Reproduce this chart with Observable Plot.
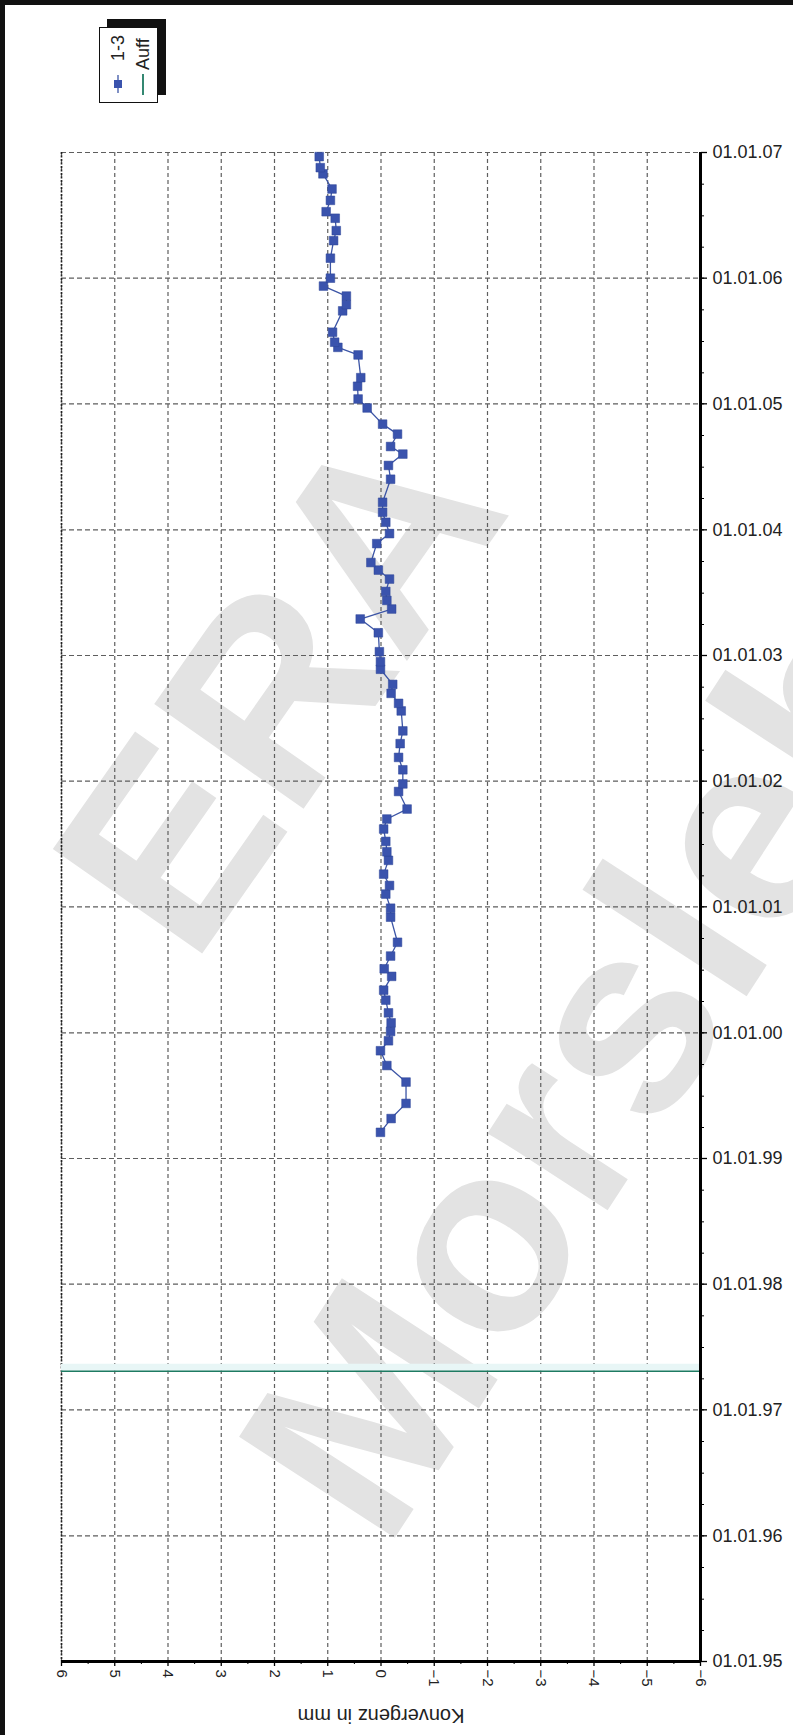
<!DOCTYPE html>
<html>
<head>
<meta charset="utf-8">
<script src="https://cdn.jsdelivr.net/npm/d3@7"></script>
<script src="https://cdn.jsdelivr.net/npm/@observablehq/plot@0.6"></script>
<style>
  body { margin: 0; background: #fff; }
  #wrap { position: relative; width: 793px; height: 1735px; overflow: hidden; font-family: "Liberation Sans", Arial, sans-serif; }
  #wm { position: absolute; left: 0; top: 0; z-index: 0; }
  #chart { position: absolute; left: 0; top: 0; z-index: 1; }
  #legend { position: absolute; left: 99px; top: 27px; width: 57px; height: 74px; border: 1.5px solid #111; background: #fff; box-shadow: 8px -8px 0 #111; z-index: 2; }
  .bl { position: absolute; left: 0; top: 0; width: 5px; height: 1735px; background: #111; z-index: 3; }
  .bt { position: absolute; left: 0; top: 0; width: 793px; height: 5px; background: #111; z-index: 3; }
</style>
</head>
<body>
<div id="wrap">
  <svg id="wm" width="793" height="1735">
    <g font-family="Liberation Sans, Arial, sans-serif" font-weight="bold" fill="#e3e3e3">
      <text font-size="265" transform="translate(192,968) rotate(-55)">ERA</text>
      <text font-size="270" transform="translate(385,1553) rotate(-57)">Morsleben</text>
    </g>
  </svg>
  <div id="chart"></div>
  <div id="legend">
    <svg width="57" height="74" font-family="Liberation Sans, Arial, sans-serif" font-size="18" fill="#222">
      <text transform="translate(24,33) rotate(-90)">1-3</text>
      <line x1="18" y1="47" x2="18" y2="65" stroke="#3c55a6" stroke-width="1.3"></line>
      <rect x="14" y="52" width="8" height="8" fill="#3a53ad"></rect>
      <text transform="translate(49,42) rotate(-90)">Auff</text>
      <line x1="43" y1="46" x2="43" y2="67" stroke="#1e7b62" stroke-width="1.8"></line>
    </svg>
  </div>
  <div class="bl"></div>
  <div class="bt"></div>
</div>
<script>
// Series "1-3": measurement dates and convergence values (mm)
const dates = [
  "1999-03-18","1999-04-27","1999-06-10","1999-08-11","1999-09-28","1999-11-10","1999-12-09",
  "2000-01-05","2000-01-30","2000-02-28","2000-04-05","2000-05-04","2000-06-13","2000-07-05",
  "2000-08-11","2000-09-20","2000-12-02","2000-12-28",
  "2001-02-07","2001-03-04","2001-04-06","2001-05-16","2001-06-10","2001-07-10","2001-08-15",
  "2001-09-13","2001-10-12","2001-12-02","2001-12-24",
  "2002-02-03","2002-03-11","2002-04-20","2002-05-27","2002-07-24","2002-08-15","2002-09-13",
  "2002-10-09","2002-11-22","2002-12-14",
  "2003-01-12","2003-03-08","2003-04-17","2003-05-16","2003-06-10","2003-07-06","2003-08-11",
  "2003-09-06","2003-09-28","2003-11-22","2003-12-21",
  "2004-01-23","2004-02-21","2004-03-21","2004-05-27","2004-07-06","2004-08-08","2004-08-30",
  "2004-10-05","2004-11-03","2004-12-20",
  "2005-01-15","2005-02-21","2005-03-18","2005-05-23","2005-06-14","2005-06-29","2005-07-28",
  "2005-09-28","2005-10-16","2005-11-10","2005-12-09",
  "2006-01-01","2006-02-28","2006-04-20","2006-05-19","2006-06-24","2006-07-13","2006-08-15",
  "2006-09-17","2006-10-31","2006-11-18","2006-12-20"
];
const values = [
  0.01,-0.19,-0.47,-0.47,-0.11,0.01,-0.14,
  -0.18,-0.19,-0.14,-0.09,-0.05,-0.20,-0.06,
  -0.18,-0.31,-0.18,-0.18,
  -0.09,-0.16,-0.05,-0.14,-0.11,-0.09,-0.05,
  -0.11,-0.49,-0.33,-0.41,
  -0.41,-0.33,-0.36,-0.41,-0.38,-0.33,-0.19,
  -0.22,0.01,0.01,
  0.03,0.05,0.39,-0.20,-0.11,-0.09,-0.16,
  0.05,0.19,0.08,-0.16,
  -0.09,-0.03,-0.03,-0.18,-0.14,-0.41,-0.18,
  -0.31,-0.03,0.26,
  0.43,0.44,0.38,0.43,0.81,0.87,0.91,
  0.72,0.65,0.65,1.08,
  0.95,0.95,0.89,0.84,0.86,1.03,0.95,
  0.92,1.09,1.14,1.16
];
// Series "Auff": single date marker
const auffDates = ["1997-04-23"];

// Axes
const xTicks = [6, 5, 4, 3, 2, 1, 0, -1, -2, -3, -4, -5, -6];
const yearTicks = ["1995-01-01","1996-01-01","1997-01-01","1998-01-01","1999-01-01","2000-01-01",
  "2001-01-01","2002-01-01","2003-01-01","2004-01-01","2005-01-01","2006-01-01","2007-01-01"];
const xLabel = "Konvergenz in mm";

const data = dates.map((d, i) => ({date: new Date(d), value: values[i]}));
const years = yearTicks.map(d => new Date(d));
const auff = auffDates.map(d => new Date(d));
const xDomain = [xTicks[0], xTicks[xTicks.length - 1]];
const yDomain = [years[0], years[years.length - 1]];
const xMinor = xTicks.slice(1).map(v => v + 0.5);
const quarters = d3.utcMonth.every(3).range(yDomain[0], new Date(+yDomain[1] + 1));
const fmt = d3.utcFormat("%d.%m.%y");

const chart = Plot.plot({
  width: 793,
  height: 1735,
  marginLeft: 61,
  marginRight: 93,
  marginTop: 152,
  marginBottom: 74,
  style: {background: "transparent", fontFamily: "Liberation Sans, Arial, sans-serif", color: "#222"},
  x: {domain: xDomain, label: null},
  y: {type: "utc", domain: yDomain, label: null},
  marks: [
    Plot.gridX(xTicks, {stroke: "#5e5e5e", strokeOpacity: 1, strokeWidth: 1.2, strokeDasharray: "4,3"}),
    Plot.gridY(years, {stroke: "#5e5e5e", strokeOpacity: 1, strokeWidth: 1.2, strokeDasharray: "5,3"}),
    Plot.ruleX([xDomain[0]], {stroke: "#222", strokeWidth: 1.6, strokeDasharray: "2,1.5"}),
    Plot.ruleY(auff, {stroke: "#e8f6f6", strokeWidth: 7, dy: -4}),
    Plot.ruleY(auff, {stroke: "#1e7b62", strokeWidth: 1.6}),
    Plot.line(data, {x: "value", y: "date", stroke: "#3c55a6", strokeWidth: 1.3}),
    Plot.dot(data, {x: "value", y: "date", symbol: "square", r: 4.9, fill: "#3a53ad", stroke: "#2d4596", strokeWidth: 0.5}),
    Plot.ruleY([yDomain[0]], {stroke: "#000", strokeWidth: 3}),
    Plot.ruleX([xDomain[1]], {stroke: "#000", strokeWidth: 3}),
    Plot.axisX({ticks: xTicks, tickSize: 5, tickRotate: 90, tickPadding: 3, fontSize: 15, stroke: "#000", strokeWidth: 1.3, fill: "#222", label: null}),
    Plot.axisX({ticks: xMinor, tickSize: 3, tickFormat: () => "", stroke: "#000", label: null}),
    Plot.axisY({anchor: "right", ticks: years, tickSize: 6, tickPadding: 6, tickFormat: fmt, fontSize: 18, stroke: "#000", strokeWidth: 1.3, fill: "#222", label: null}),
    Plot.axisY({anchor: "right", ticks: quarters, tickSize: 3, tickFormat: () => "", stroke: "#000", label: null}),
    Plot.text([xLabel], {text: d => d, frameAnchor: "bottom", dy: 47, rotate: 180, fontSize: 20, fill: "#222"})
  ]
});
document.getElementById("chart").appendChild(chart);
</script>
</body>
</html>
